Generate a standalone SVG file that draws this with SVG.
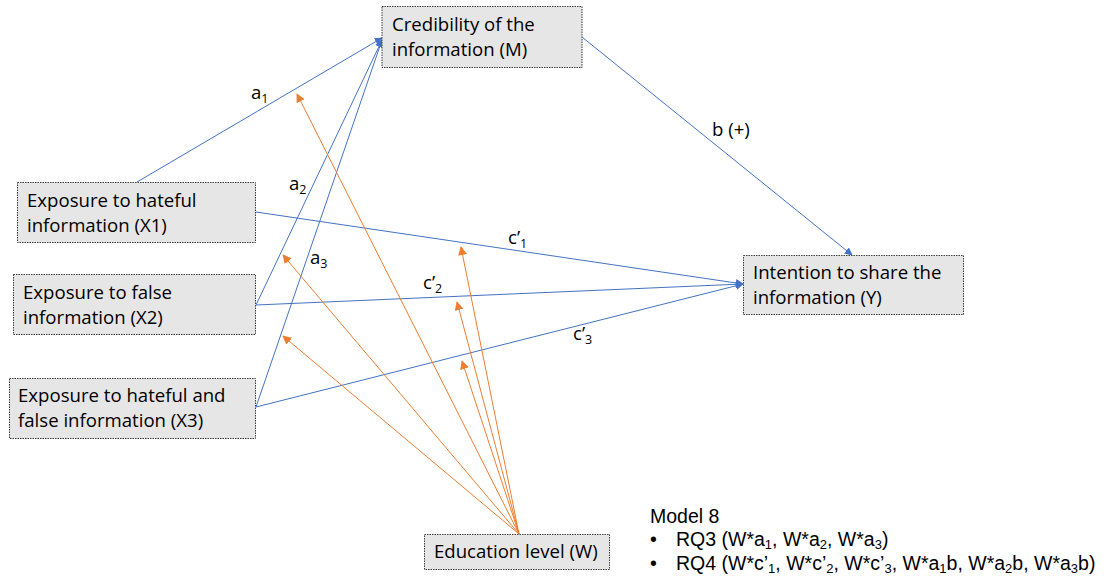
<svg xmlns="http://www.w3.org/2000/svg" width="1117" height="578" viewBox="0 0 1117 578">
<style>
.box{fill:#E7E6E6;stroke:#3a3a3a;stroke-width:1;stroke-dasharray:1.5 1}
.t{font-family:"Open Sans","Liberation Sans",sans-serif;font-size:18.6px;fill:#000}
.blue{stroke:#4472C4;stroke-width:1;fill:none}
.or{stroke:#ED7D31;stroke-width:1;fill:none}
.sub{font-size:12.5px}
.lg{font-family:"Liberation Sans",Arial,sans-serif;font-size:19.5px;fill:#000}
.lsub{font-size:13px}
</style>
<defs>
<marker id="ab" viewBox="0 0 10 10" refX="9" refY="5" markerWidth="8" markerHeight="8" markerUnits="userSpaceOnUse" orient="auto"><path d="M0,0 L10,5 L0,10 z" fill="#4472C4"/></marker>
<marker id="ao" viewBox="0 0 10 10" refX="9" refY="5" markerWidth="9" markerHeight="9" markerUnits="userSpaceOnUse" orient="auto"><path d="M0,0 L10,5 L0,10 z" fill="#ED7D31"/></marker>
</defs>
<rect width="1117" height="578" fill="#fff"/>
<g id="connectors">
<line class="blue" x1="137" y1="182" x2="382" y2="38" marker-end="url(#ab)"/>
<line class="blue" x1="256" y1="305" x2="382" y2="40" marker-end="url(#ab)"/>
<line class="blue" x1="256" y1="407" x2="382" y2="40" marker-end="url(#ab)"/>
<line class="blue" x1="582" y1="37" x2="852" y2="255" marker-end="url(#ab)"/>
<line class="blue" x1="256" y1="212" x2="743" y2="284" marker-end="url(#ab)"/>
<line class="blue" x1="256" y1="305" x2="743" y2="284" marker-end="url(#ab)"/>
<line class="blue" x1="256" y1="407" x2="743" y2="284" marker-end="url(#ab)"/>
<line class="or" x1="519" y1="534" x2="297" y2="94" marker-end="url(#ao)"/>
<line class="or" x1="519" y1="534" x2="283" y2="255" marker-end="url(#ao)"/>
<line class="or" x1="519" y1="534" x2="283" y2="336" marker-end="url(#ao)"/>
<line class="or" x1="519" y1="534" x2="461" y2="247" marker-end="url(#ao)"/>
<line class="or" x1="519" y1="534" x2="457" y2="302" marker-end="url(#ao)"/>
<line class="or" x1="519" y1="534" x2="462" y2="361" marker-end="url(#ao)"/>
</g>
<g id="labels" class="t">
<text x="251" y="99">a<tspan class="sub" dy="4">1</tspan></text>
<text x="289" y="190">a<tspan class="sub" dy="4">2</tspan></text>
<text x="310" y="264">a<tspan class="sub" dy="4">3</tspan></text>
<text x="712" y="136">b (+)</text>
<text x="508" y="244">c’<tspan class="sub" dy="4">1</tspan></text>
<text x="423" y="289">c’<tspan class="sub" dy="4">2</tspan></text>
<text x="573" y="340">c’<tspan class="sub" dy="4">3</tspan></text>
</g>
<g id="M"><rect class="box" x="382" y="6.5" width="200" height="61"/>
<text class="t" x="392" y="31">Credibility of the</text><text class="t" x="392" y="56">information (M)</text></g>
<g id="X1"><rect class="box" x="17.5" y="182.5" width="238" height="60"/>
<text class="t" x="27" y="207">Exposure to hateful</text><text class="t" x="27" y="232">information (X1)</text></g>
<g id="X2"><rect class="box" x="13.5" y="274.5" width="242" height="60"/>
<text class="t" x="23" y="299">Exposure to false</text><text class="t" x="23" y="324">information (X2)</text></g>
<g id="X3"><rect class="box" x="9.5" y="378.5" width="246" height="60"/>
<text class="t" x="18" y="402">Exposure to hateful and</text><text class="t" x="18" y="427">false information (X3)</text></g>
<g id="Y"><rect class="box" x="743.5" y="255.5" width="220" height="59"/>
<text class="t" x="753" y="279">Intention to share the</text><text class="t" x="753" y="304">information (Y)</text></g>
<g id="W"><rect class="box" x="424.5" y="534.5" width="185" height="35"/>
<text class="t" x="434" y="558">Education level (W)</text></g>
<g id="legend" class="lg">
<text x="650" y="523">Model 8</text>
<text x="650" y="546">•</text>
<text x="676" y="546">RQ3 (W*a<tspan class="lsub" dy="3">1</tspan><tspan dy="-3">, W*a</tspan><tspan class="lsub" dy="3">2</tspan><tspan dy="-3">, W*a</tspan><tspan class="lsub" dy="3">3</tspan><tspan dy="-3">)</tspan></text>
<text x="650" y="570">•</text>
<text x="676" y="570">RQ4 (W*c’<tspan class="lsub" dy="3">1</tspan><tspan dy="-3">, W*c’</tspan><tspan class="lsub" dy="3">2</tspan><tspan dy="-3">, W*c’</tspan><tspan class="lsub" dy="3">3</tspan><tspan dy="-3">, W*a</tspan><tspan class="lsub" dy="3">1</tspan><tspan dy="-3">b, W*a</tspan><tspan class="lsub" dy="3">2</tspan><tspan dy="-3">b, W*a</tspan><tspan class="lsub" dy="3">3</tspan><tspan dy="-3">b)</tspan></text>
</g>
</svg>
